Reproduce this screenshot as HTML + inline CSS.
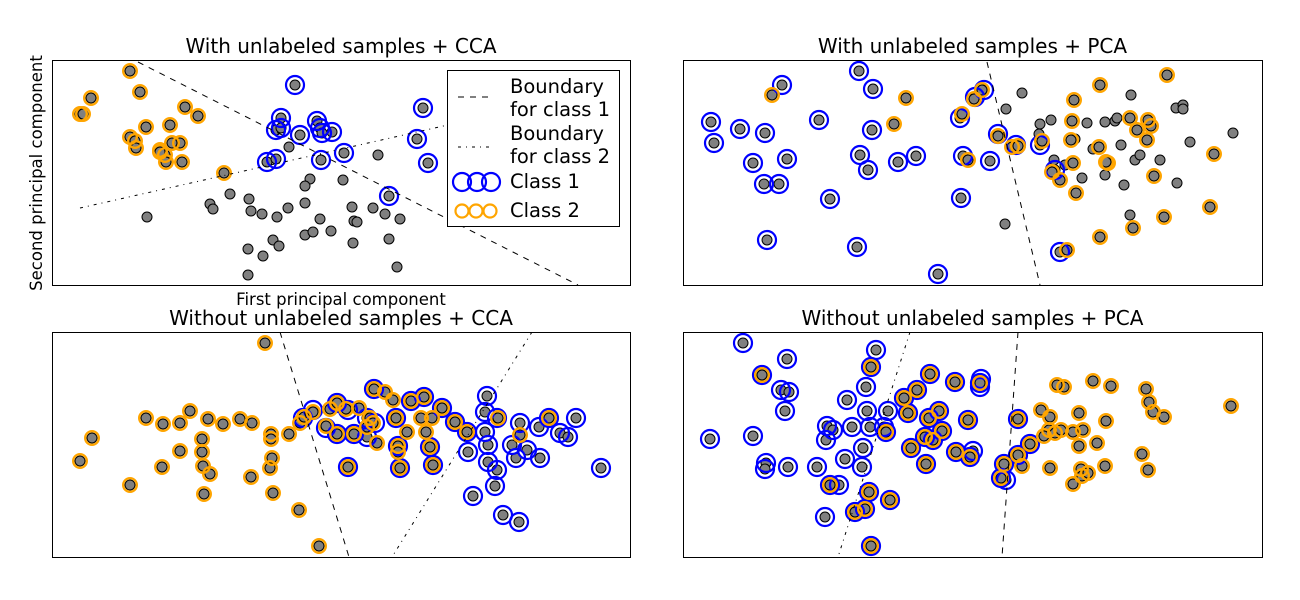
<!DOCTYPE html>
<html><head><meta charset="utf-8"><style>body{margin:0;background:#fff}svg{display:block;font-family:"DejaVu Sans","Liberation Sans",sans-serif}</style></head>
<body>
<svg id="chart" width="1300" height="600" xmlns="http://www.w3.org/2000/svg"></svg>
<script>
// Data arrays (data units per panel; domains given in panels definition)
const tlGray=[[289,147],[378,155],[310,179],[305,186],[230,194],[249,199],[210,204],[213,209],[251,211],[262,214],[277,217],[288,208],[305,203],[320,219],[352,207],[354,221],[373,208],[385,214],[400,219],[147,217],[248,249],[273,240],[263,256],[279,246],[305,235],[313,232],[331,231],[353,243],[389,239],[397,267],[248,275],[357,222],[343,180]];
const tlClass1=[[295,85],[281,118],[276,130],[281,128],[300,135],[317,121],[320,128],[332,132],[322,133],[344,153],[321,160],[267,162],[276,159],[423,108],[417,139],[428,163],[389,196]];
const tlClass2=[[130,71],[140,92],[91,98],[80,114],[83,114],[185,107],[198,116],[146,127],[170,125],[130,137],[135,141],[136,148],[160,150],[165,155],[180,143],[172,143],[182,162],[166,162],[224,173],[160,152]];
const trGray=[[1022,93],[1006,109],[1040,124],[1039,134],[1051,120],[1054,160],[1087,123],[1105,122],[1115,121],[1131,95],[1117,118],[1093,149],[1075,139],[1121,145],[1135,160],[1140,155],[1124,185],[1176,108],[1183,105],[1183,109],[1190,142],[1233,133],[1177,183],[1005,224],[1130,215],[1082,178],[1065,165],[1105,175],[1160,160]];
const trClass1=[[859,71],[782,85],[873,89],[711,122],[714,143],[740,129],[765,133],[819,120],[872,130],[753,163],[787,159],[764,184],[779,184],[830,199],[767,240],[857,247],[938,274],[860,155],[868,170],[898,162],[916,156],[960,118],[963,156],[961,198],[1016,145],[1040,145],[1060,252],[1055,170],[990,161],[998,134],[975,97],[984,90]];
const trClass2=[[772,95],[906,98],[894,124],[962,114],[974,99],[982,90],[968,160],[998,136],[1012,147],[1018,146],[1042,141],[1052,172],[1060,180],[1074,100],[1100,85],[1167,75],[1072,121],[1071,140],[1073,163],[1099,147],[1108,163],[1130,118],[1137,130],[1151,126],[1148,120],[1154,176],[1147,140],[1214,154],[1076,193],[1106,162],[1100,237],[1133,228],[1164,217],[1210,207],[1067,250]];
const blGray=[];
const blClass1=[[303,418],[313,410],[326,428],[337,403],[348,410],[367,418],[354,434],[337,434],[374,389],[396,418],[424,397],[411,401],[442,408],[455,422],[467,432],[485,412],[487,396],[497,418],[485,432],[488,445],[468,452],[488,462],[497,470],[520,423],[539,427],[549,418],[576,418],[560,433],[568,437],[540,458],[516,458],[512,445],[527,450],[473,496],[495,486],[503,515],[519,522],[601,468],[400,468],[348,467],[433,465],[398,446],[430,447],[375,423],[367,437]];
const blClass2=[[265,343],[80,461],[92,438],[130,485],[146,418],[163,424],[180,423],[190,411],[208,419],[223,424],[240,419],[252,423],[202,439],[202,452],[180,451],[162,467],[203,466],[210,474],[204,494],[251,477],[273,493],[299,510],[319,546],[271,434],[271,439],[289,434],[272,458],[270,468],[300,423],[304,417],[313,412],[330,409],[337,403],[346,409],[354,434],[337,434],[374,389],[385,392],[370,418],[367,427],[377,443],[396,418],[398,446],[398,452],[400,468],[424,397],[421,418],[432,418],[442,408],[426,432],[430,447],[433,465],[411,401],[393,400],[359,408],[455,422],[467,432],[498,418],[520,435],[549,418],[348,467],[326,426],[373,423],[407,432]];
const brGray=[];
const brClass1=[[743,343],[876,350],[787,359],[871,367],[762,375],[866,387],[781,390],[789,392],[785,411],[710,439],[753,436],[827,426],[833,430],[826,440],[847,400],[867,411],[852,427],[870,427],[884,427],[888,411],[863,448],[845,459],[862,467],[817,467],[788,467],[766,463],[765,469],[830,485],[839,485],[869,492],[825,517],[904,398],[917,390],[930,374],[955,382],[980,383],[980,387],[981,379],[908,413],[929,418],[939,411],[942,431],[925,437],[933,440],[968,420],[911,448],[926,464],[956,452],[970,457],[973,451],[1018,419],[1004,464],[1001,478],[1006,480],[1018,455],[1030,444],[855,512],[865,509],[890,500],[886,432],[871,546]];
const brClass2=[[762,375],[871,367],[904,398],[917,390],[930,374],[955,382],[980,383],[908,413],[929,418],[939,411],[942,431],[925,437],[933,440],[968,420],[911,448],[926,464],[956,452],[970,457],[1018,419],[1004,464],[1001,478],[1018,455],[1030,444],[855,512],[865,509],[890,500],[886,432],[871,546],[830,485],[869,492],[1041,410],[1049,430],[1055,433],[1044,436],[1050,417],[1061,430],[1073,432],[1079,413],[1083,430],[1064,387],[1057,385],[1093,381],[1111,386],[1097,443],[1079,446],[1081,469],[1082,476],[1088,473],[1105,466],[1073,484],[1106,421],[1146,389],[1149,402],[1153,412],[1164,417],[1148,470],[1142,454],[1231,406],[1050,468],[1022,466]];
const titles=["With unlabeled samples + CCA","With unlabeled samples + PCA","Without unlabeled samples + CCA","Without unlabeled samples + PCA"];
const tlBoundary1=[[138,62],[578,285]], tlBoundary2=[[80,208],[470,120]];
const trBoundary1=[[987,62],[1040,285]];
const blBoundary1=[[280,332],[349,557]], blBoundary2=[[532,332],[392,557]];
const brBoundary1=[[1018,332],[1002,557]], brBoundary2=[[910,332],[838,557]];

const NS="http://www.w3.org/2000/svg";
const svg=document.getElementById('chart');
function mk(tag,attrs,parent){const e=document.createElementNS(NS,tag);for(const k in attrs)e.setAttribute(k,attrs[k]);(parent||svg).appendChild(e);return e;}
const panels=[
 {key:'tl',ox:52,oy:60,dom:[52,630,60,285],gray:tlGray,c1:tlClass1,c2:tlClass2,b1:tlBoundary1,b2:tlBoundary2},
 {key:'tr',ox:683,oy:60,dom:[683,1262,60,285],gray:trGray,c1:trClass1,c2:trClass2,b1:trBoundary1,b2:null},
 {key:'bl',ox:52,oy:332,dom:[52,630,332,557],gray:blGray,c1:blClass1,c2:blClass2,b1:blBoundary1,b2:blBoundary2},
 {key:'br',ox:683,oy:332,dom:[683,1262,332,557],gray:brGray,c1:brClass1,c2:brClass2,b1:brBoundary1,b2:brBoundary2}];
panels.forEach((p,i)=>{
 const W=p.dom[1]-p.dom[0],H=p.dom[3]-p.dom[2];
 const sx=v=>p.ox+(v-p.dom[0])/(p.dom[1]-p.dom[0])*W;
 const sy=v=>p.oy+(v-p.dom[2])/(p.dom[3]-p.dom[2])*H;
 const g=mk('g',{'clip-path':'url(#clip'+i+')'});
 
 
 const cp=mk('clipPath',{id:'clip'+i});mk('rect',{x:p.ox,y:p.oy,width:W,height:H},cp);
 const t=mk('text',{x:p.ox+W/2,y:p.oy-7,'text-anchor':'middle','font-size':20});t.textContent=titles[i];
 
 
 const all=p.gray.concat(p.c1,p.c2);
 all.forEach(d=>{const c=mk('circle',{cx:sx(d[0]),cy:sy(d[1]),r:5,fill:'#808080',stroke:'#000','stroke-width':1},g);
  
  });
 p.c1.forEach(d=>{const c=mk('circle',{cx:sx(d[0]),cy:sy(d[1]),r:9,fill:'none',stroke:'#0000ff','stroke-width':2.2},g);
  
  });
 p.c2.forEach(d=>{const c=mk('circle',{cx:sx(d[0]),cy:sy(d[1]),r:6.8,fill:'none',stroke:'#ffa500','stroke-width':2.4},g);
  
  });
 if(p.b1){const l=mk('line',{x1:sx(p.b1[0][0]),y1:sy(p.b1[0][1]),x2:sx(p.b1[1][0]),y2:sy(p.b1[1][1]),stroke:'#000','stroke-dasharray':'6,6'},g);
  
  }
 if(p.b2){const l=mk('line',{x1:sx(p.b2[0][0]),y1:sy(p.b2[0][1]),x2:sx(p.b2[1][0]),y2:sy(p.b2[1][1]),stroke:'#000','stroke-dasharray':'3,5,1,5'},g);
  
  }
 const f=mk('rect',{x:p.ox+.5,y:p.oy+.5,width:W,height:H,fill:'none',stroke:'#000'});
 
 
});
</script>
<svg style="position:absolute;left:0;top:0" width="1300" height="600" xmlns="http://www.w3.org/2000/svg" font-family="DejaVu Sans, Liberation Sans, sans-serif">
<text x="341" y="305" text-anchor="middle" font-size="16.5">First principal component</text>
<text x="0" y="0" transform="translate(42,173) rotate(-90)" text-anchor="middle" font-size="16.5">Second principal component</text>
<g>
<rect x="447.5" y="70.5" width="172" height="156" fill="#fff" stroke="#000"/>
<line x1="458" y1="97" x2="492" y2="97" stroke="#000" stroke-dasharray="6,6"/>
<text x="510" y="93" font-size="19.5">Boundary</text><text x="510" y="116" font-size="19.5">for class 1</text>
<line x1="458" y1="147" x2="492" y2="147" stroke="#000" stroke-dasharray="3,5,1,5"/>
<text x="510" y="140" font-size="19.5">Boundary</text><text x="510" y="163" font-size="19.5">for class 2</text>
<circle cx="462" cy="182" r="9" fill="none" stroke="#0000ff" stroke-width="2.2"/><circle cx="477" cy="182" r="9" fill="none" stroke="#0000ff" stroke-width="2.2"/><circle cx="491" cy="182" r="9" fill="none" stroke="#0000ff" stroke-width="2.2"/>
<text x="510" y="188" font-size="19.5">Class 1</text>
<circle cx="462" cy="211" r="6.5" fill="none" stroke="#ffa500" stroke-width="2.2"/><circle cx="476" cy="211" r="6.5" fill="none" stroke="#ffa500" stroke-width="2.2"/><circle cx="490" cy="211" r="6.5" fill="none" stroke="#ffa500" stroke-width="2.2"/>
<text x="510" y="217" font-size="19.5">Class 2</text>
</g>
</svg>
</body></html>
